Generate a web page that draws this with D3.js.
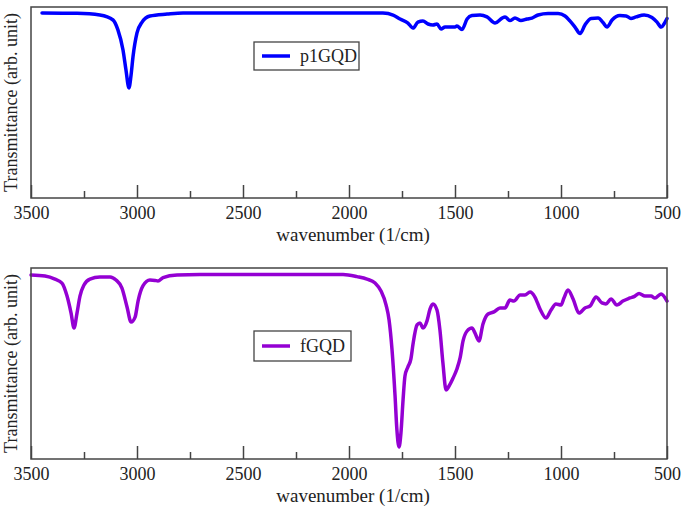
<!DOCTYPE html>
<html>
<head>
<meta charset="utf-8">
<script src="https://cdn.jsdelivr.net/npm/d3@7"></script>
<style>
  html, body { margin: 0; padding: 0; background: #fff; }
  svg { display: block; }
  text { font-family: "Liberation Serif", "Times New Roman", serif; fill: #222; }
</style>
</head>
<body>
<svg id="chart" width="685" height="511"></svg>
<script>
// ---- data ----
const xMajorTicks = [3500, 3000, 2500, 2000, 1500, 1000, 500];
const xMinorTicks = [3250, 2750, 2250, 1750, 1250, 750];
const xLabel = "wavenumber (1/cm)";
const yLabel = "Transmittance (arb. unit)";

const p1gqdName = "p1GQD";
const p1gqdWavenumber = [3448, 3283, 3175, 3113, 3090, 3066, 3052, 3038, 3028, 3019, 3000, 2976, 2939, 2858, 2783,
  2500, 2200, 1900, 1840, 1792, 1759, 1722, 1698, 1675, 1651, 1627, 1604, 1585, 1566, 1547, 1524, 1500, 1491, 1467,
  1443, 1420, 1382, 1349, 1311, 1278, 1264, 1241, 1217, 1189, 1160, 1137, 1108, 1061, 1014, 981, 958, 934, 910,
  887, 858, 825, 802, 783, 759, 722, 693, 670, 646, 608, 571, 547, 528, 509, 500];
const p1gqdTransmittance = [96.9, 96.7, 95.8, 93.2, 88.0, 77.5, 67.0, 57.6, 64.4, 73.8, 86.4, 92.1, 95.3, 96.3, 96.9,
  96.9, 96.9, 96.9, 96.8, 95.8, 93.7, 91.6, 89.0, 92.1, 92.7, 91.1, 90.6, 91.1, 88.5, 89.5, 89.5, 89.5, 90.1, 88.2,
  93.7, 95.5, 95.8, 94.8, 91.6, 94.2, 94.8, 92.9, 94.2, 92.9, 93.7, 94.2, 95.8, 96.6, 96.6, 95.3, 92.7, 89.5, 86.1,
  90.6, 94.0, 94.2, 91.9, 89.5, 93.2, 95.5, 95.3, 94.0, 94.8, 95.8, 94.5, 92.1, 89.5, 92.1, 94.0];

const fgqdName = "fGQD";
const fgqdWavenumber = [3500, 3434, 3387, 3354, 3330, 3311, 3297, 3283, 3269, 3250, 3222, 3175, 3127, 3099, 3071,
  3047, 3028, 3009, 2995, 2972, 2939, 2915, 2901, 2877, 2811, 2703, 2400, 2100, 2028, 1962, 1915, 1877, 1849, 1825,
  1811, 1797, 1783, 1774, 1764, 1755, 1745, 1736, 1722, 1708, 1698, 1679, 1665, 1651, 1632, 1618, 1604, 1585, 1571,
  1557, 1542, 1528, 1509, 1491, 1476, 1462, 1443, 1420, 1406, 1387, 1368, 1344, 1316, 1288, 1264, 1241, 1222, 1193,
  1170, 1146, 1123, 1099, 1071, 1047, 1024, 1000, 986, 967, 943, 915, 887, 863, 835, 807, 788, 764, 736, 708, 675,
  651, 632, 604, 575, 557, 528, 500];
const fgqdTransmittance = [96.3, 95.8, 94.2, 92.1, 85.3, 76.4, 68.6, 76.4, 85.3, 91.1, 94.2, 95.3, 95.3, 93.7, 89.5,
  79.6, 71.7, 74.3, 82.7, 90.6, 93.7, 93.5, 93.2, 95.0, 96.3, 96.6, 96.6, 96.6, 96.6, 95.5, 94.2, 92.1, 88.0, 80.6,
  72.8, 57.1, 33.5, 15.2, 6.3, 13.6, 30.9, 43.5, 48.2, 52.4, 60.2, 70.2, 71.2, 68.6, 72.3, 78.5, 81.2, 78.0, 67.5,
  50.3, 36.1, 38.2, 42.4, 47.1, 52.9, 61.8, 67.0, 68.6, 66.0, 61.8, 70.7, 75.9, 77.0, 79.1, 79.1, 83.2, 82.7, 85.9,
  85.9, 87.4, 84.8, 78.5, 73.8, 78.0, 81.2, 80.6, 84.3, 88.5, 83.8, 76.4, 79.1, 80.1, 84.8, 81.7, 81.2, 83.8, 80.6,
  82.7, 84.3, 85.3, 86.6, 85.3, 85.3, 84.3, 86.4, 82.7];

// ---- layout ----
const svg = d3.select("#chart");
const frameColor = "#444";

const panels = [
  { name: p1gqdName, wn: p1gqdWavenumber, tr: p1gqdTransmittance, color: "#0000ff",
    top: 7, bottom: 198, legend: { x: 254, y: 42, w: 105, h: 28 } },
  { name: fgqdName, wn: fgqdWavenumber, tr: fgqdTransmittance, color: "#9400d3",
    top: 268, bottom: 459, legend: { x: 254, y: 331, w: 97, h: 30 } }
];
const left = 31, right = 667;

panels.forEach(p => {
  const x = d3.scaleLinear().domain([3500, 500]).range([left, right]);
  const y = d3.scaleLinear().domain([0, 100]).range([p.bottom, p.top]);
  const g = svg.append("g");

  // major ticks (inward) with labels
  const ax = g.append("g").attr("transform", `translate(0,${p.bottom})`)
    .call(d3.axisBottom(x).tickValues(xMajorTicks).tickSize(-13).tickPadding(8).tickFormat(d3.format("d")));
  ax.select(".domain").remove();
  ax.selectAll("line").attr("stroke", frameColor).attr("stroke-width", 1.5);
  ax.selectAll("text").attr("font-size", 18).style("font-family", "Liberation Serif").attr("fill", "#222");

  // minor ticks
  const mx = g.append("g").attr("transform", `translate(0,${p.bottom})`)
    .call(d3.axisBottom(x).tickValues(xMinorTicks).tickSize(-7).tickFormat(""));
  mx.select(".domain").remove();
  mx.selectAll("line").attr("stroke", frameColor).attr("stroke-width", 1.5);

  // data line
  const data = p.wn.map((w, i) => [w, p.tr[i]]);
  const line = d3.line().x(d => x(d[0])).y(d => y(d[1])).curve(d3.curveMonotoneX);
  g.append("path").datum(data).attr("d", line)
    .attr("fill", "none").attr("stroke", p.color).attr("stroke-width", 3.5)
    .attr("stroke-linejoin", "round").attr("stroke-linecap", "round");

  // frame
  g.append("rect").attr("x", left).attr("y", p.top)
    .attr("width", right - left).attr("height", p.bottom - p.top)
    .attr("fill", "none").attr("stroke", frameColor).attr("stroke-width", 1.5);

  // axis titles
  g.append("text").attr("x", (left + right) / 2 + 4).attr("y", p.bottom + 43)
    .attr("text-anchor", "middle").attr("font-size", 19).text(xLabel);
  g.append("text")
    .attr("transform", `translate(17,${(p.top + p.bottom) / 2}) rotate(-90)`)
    .attr("text-anchor", "middle").attr("font-size", 18).text(yLabel);

  // legend
  const L = p.legend;
  const lg = g.append("g");
  lg.append("rect").attr("x", L.x).attr("y", L.y).attr("width", L.w).attr("height", L.h)
    .attr("fill", "#fff").attr("stroke", frameColor).attr("stroke-width", 1.3);
  lg.append("line").attr("x1", L.x + 8).attr("x2", L.x + 36)
    .attr("y1", L.y + L.h / 2).attr("y2", L.y + L.h / 2)
    .attr("stroke", p.color).attr("stroke-width", 3.5);
  lg.append("text").attr("x", L.x + 46).attr("y", L.y + L.h / 2 + 6)
    .attr("font-size", 18).text(p.name);
});
</script>
</body>
</html>
